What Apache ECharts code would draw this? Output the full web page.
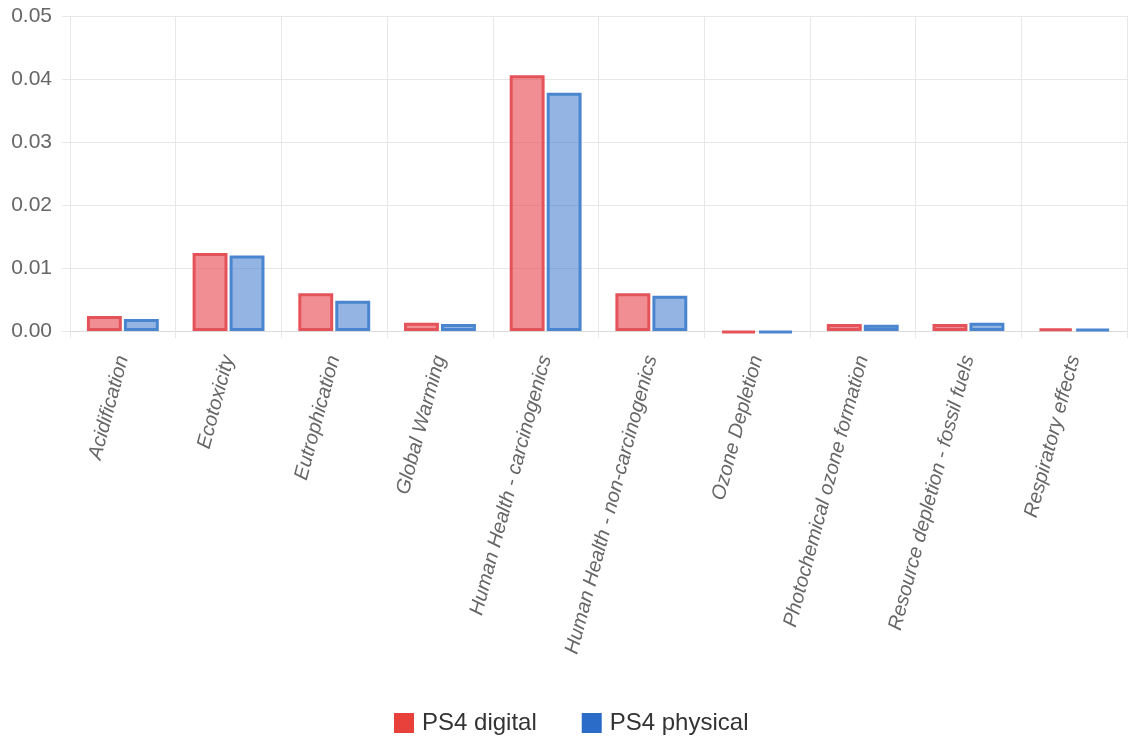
<!DOCTYPE html>
<html>
<head>
<meta charset="utf-8">
<script src="https://cdn.jsdelivr.net/npm/echarts@6/dist/echarts.min.js"></script>
<style>
  html, body { margin: 0; padding: 0; background: #fff; }
  #chart { width: 1132px; height: 738px; }
</style>
</head>
<body>
<div id="chart"></div>
<script>
  const categories = [
    "Acidification", "Ecotoxicity", "Eutrophication", "Global Warming",
    "Human Health - carcinogenics", "Human Health - non-carcinogenics",
    "Ozone Depletion", "Photochemical ozone formation",
    "Resource depletion - fossil fuels", "Respiratory effects"
  ];
  const digital = [0.0024, 0.0124, 0.0060, 0.0013, 0.0406, 0.0060, -0.0003, 0.0011, 0.0011, 0.0004];
  const physical = [0.0019, 0.0120, 0.0048, 0.0011, 0.0378, 0.0056, -0.0003, 0.0010, 0.0013, 0.0003];
  const yTicks = [0, 0.01, 0.02, 0.03, 0.04, 0.05];

  const font = "Liberation Sans, Helvetica, Arial, sans-serif";
  const gridColor = "#e8e8e8";

  const chart = echarts.init(document.getElementById("chart"));
  chart.setOption({
    animation: false,
    grid: { left: 70, right: 5, top: 16, bottom: 407, containLabel: false },
    legend: {
      top: 706,
      left: 389,
      itemWidth: 20,
      itemHeight: 20,
      itemGap: 45,
      icon: "rect",
      textStyle: { fontFamily: font, fontSize: 24, color: "#333", padding: [0, 0, 0, 3] },
      data: [
        { name: "PS4 digital", itemStyle: { color: "#e8403a", borderWidth: 0 } },
        { name: "PS4 physical", itemStyle: { color: "#2a6cc8", borderWidth: 0 } }
      ]
    },
    xAxis: {
      type: "category",
      data: categories,
      boundaryGap: true,
      axisLine: { show: true, lineStyle: { color: "#dcdcdc", width: 1 } },
      axisTick: { show: true, length: 7, lineStyle: { color: gridColor } },
      splitLine: { show: true, lineStyle: { color: gridColor } },
      axisLabel: {
        rotate: 75,
        interval: 0,
        margin: 25,
        fontFamily: font,
        fontStyle: "italic",
        fontSize: 20,
        color: "#666"
      }
    },
    yAxis: {
      type: "value",
      min: yTicks[0],
      max: yTicks[yTicks.length - 1],
      interval: 0.01,
      axisLine: { show: true, lineStyle: { color: gridColor } },
      axisTick: { show: true, length: 8, lineStyle: { color: gridColor } },
      splitLine: { show: true, lineStyle: { color: gridColor } },
      axisLabel: {
        margin: 18,
        fontFamily: font,
        fontSize: 21,
        color: "#666",
        formatter: (v) => v.toFixed(2)
      }
    },
    series: [
      {
        name: "PS4 digital",
        type: "bar",
        data: digital,
        clip: false,
        barGap: "6%",
        barCategoryGap: "32%",
        itemStyle: { color: "rgba(232,72,82,0.62)", borderColor: "#e5535a", borderWidth: 3 }
      },
      {
        name: "PS4 physical",
        type: "bar",
        data: physical,
        clip: false,
        itemStyle: { color: "rgba(42,108,200,0.5)", borderColor: "#4a85d0", borderWidth: 3 }
      }
    ]
  });
</script>
</body>
</html>
